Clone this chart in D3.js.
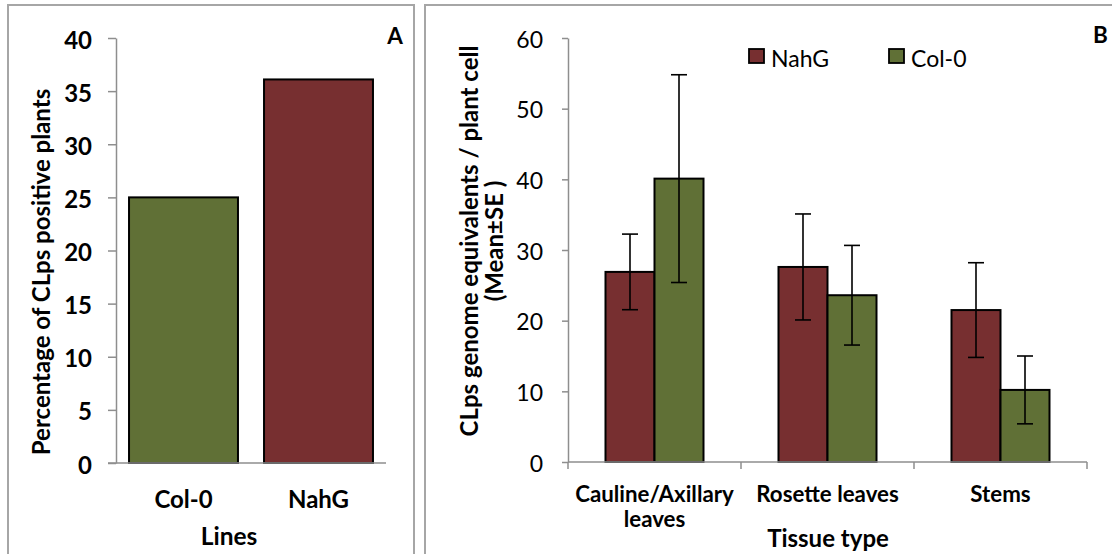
<!DOCTYPE html>
<html>
<head>
<meta charset="utf-8">
<script src="https://cdn.jsdelivr.net/npm/d3@7"></script>
<style>
  html, body { margin: 0; padding: 0; background: #fff; }
  svg { display: block; font-family: Lato, "Open Sans", sans-serif; }
</style>
</head>
<body>
<svg id="chart" width="1112" height="554"></svg>
<script>
// Panel A: share of CLps-positive plants per line
const linesA = ["Col-0", "NahG"];
const percentPositive = [25, 36.1];
const ticksA = [0, 5, 10, 15, 20, 25, 30, 35, 40];

// Panel B: CLps genome equivalents per plant cell by tissue (mean ± SE)
const tissues = ["Cauline/Axillary\nleaves", "Rosette leaves", "Stems"];
const seriesB = ["NahG", "Col-0"];
const meanNahG = [26.9, 27.6, 21.5];
const seNahG = [5.35, 7.5, 6.7];
const meanCol0 = [40.1, 23.6, 10.2];
const seCol0 = [14.7, 7.05, 4.8];
const ticksB = [0, 10, 20, 30, 40, 50, 60];

const colors = { "NahG": "#772f30", "Col-0": "#607036" };
const axisGray = "#8e8e8e";
const frameGray = "#a6a6a6";

const svg = d3.select("#chart");

// Panel frames
svg.append("rect").attr("x", 8).attr("y", 5).attr("width", 406).attr("height", 600)
  .attr("fill", "none").attr("stroke", frameGray).attr("stroke-width", 2);
svg.append("rect").attr("x", 425).attr("y", 5).attr("width", 700).attr("height", 600)
  .attr("fill", "none").attr("stroke", frameGray).attr("stroke-width", 2);

function styleAxis(g) {
  g.select(".domain").attr("stroke", axisGray).attr("stroke-width", 1.5);
  g.selectAll(".tick line").attr("stroke", axisGray).attr("stroke-width", 1.5);
  g.selectAll(".tick text").attr("fill", "#000").attr("font-family", "Lato, sans-serif");
}

// ---------- Panel A ----------
const yA = d3.scaleLinear().domain([0, 40]).range([463, 38]);
const xA = d3.scaleBand().domain(linesA).range([116, 386])
  .paddingInner(0.193).paddingOuter(0.0965);

const gA = svg.append("g");

gA.selectAll("rect.bar").data(linesA).join("rect")
  .attr("class", "bar")
  .attr("x", d => xA(d))
  .attr("width", xA.bandwidth())
  .attr("y", (d, i) => yA(percentPositive[i]))
  .attr("height", (d, i) => yA(0) - yA(percentPositive[i]))
  .attr("fill", d => colors[d])
  .attr("stroke", "#000").attr("stroke-width", 2);

const yAxisA = gA.append("g").attr("transform", "translate(116,0)")
  .call(d3.axisLeft(yA).tickValues(ticksA).tickSize(8).tickPadding(16).tickSizeOuter(0));
styleAxis(yAxisA);
yAxisA.selectAll(".tick text").attr("font-size", 24).attr("font-weight", 700).attr("dy", "0.42em");

// category baseline
gA.append("line").attr("x1", 108).attr("x2", 386).attr("y1", yA(0)).attr("y2", yA(0))
  .attr("stroke", axisGray).attr("stroke-width", 1.5);

gA.selectAll("text.cat").data(linesA).join("text")
  .attr("class", "cat")
  .attr("x", d => xA(d) + xA.bandwidth() / 2)
  .attr("y", 508)
  .attr("text-anchor", "middle")
  .attr("font-size", 24).attr("font-weight", 700)
  .text(d => d);

gA.append("text").attr("x", 229).attr("y", 545).attr("text-anchor", "middle")
  .attr("font-size", 24.5).attr("font-weight", 700).text("Lines");

gA.append("text").attr("transform", "translate(50,272) rotate(-90)")
  .attr("text-anchor", "middle").attr("font-size", 24).attr("font-weight", 700)
  .text("Percentage of CLps positive plants");

gA.append("text").attr("x", 395).attr("y", 44).attr("text-anchor", "middle")
  .attr("font-size", 22.5).attr("font-weight", 700).text("A");

// ---------- Panel B ----------
const yB = d3.scaleLinear().domain([0, 60]).range([462, 38]);
const x0 = d3.scaleBand().domain(tissues).range([568, 1087])
  .paddingInner(0.4335).paddingOuter(0.21675);
const x1 = d3.scaleBand().domain(seriesB).range([0, x0.bandwidth()]);

const rowsB = tissues.map((t, i) => ({
  tissue: t,
  values: [
    { s: "NahG", mean: meanNahG[i], se: seNahG[i] },
    { s: "Col-0", mean: meanCol0[i], se: seCol0[i] }
  ]
}));

const gB = svg.append("g");

const groups = gB.selectAll("g.grp").data(rowsB).join("g")
  .attr("class", "grp")
  .attr("transform", d => `translate(${x0(d.tissue)},0)`);

groups.selectAll("rect").data(d => d.values).join("rect")
  .attr("x", d => x1(d.s))
  .attr("width", x1.bandwidth())
  .attr("y", d => yB(d.mean))
  .attr("height", d => yB(0) - yB(d.mean))
  .attr("fill", d => colors[d.s])
  .attr("stroke", "#000").attr("stroke-width", 2);

// error bars
const capHalf = 8;
const eb = groups.selectAll("g.err").data(d => d.values).join("g").attr("class", "err")
  .attr("stroke", "#000").attr("stroke-width", 1.6);
eb.append("line")
  .attr("x1", d => x1(d.s) + x1.bandwidth() / 2).attr("x2", d => x1(d.s) + x1.bandwidth() / 2)
  .attr("y1", d => yB(d.mean + d.se)).attr("y2", d => yB(d.mean - d.se));
eb.append("line")
  .attr("x1", d => x1(d.s) + x1.bandwidth() / 2 - capHalf).attr("x2", d => x1(d.s) + x1.bandwidth() / 2 + capHalf)
  .attr("y1", d => yB(d.mean + d.se)).attr("y2", d => yB(d.mean + d.se));
eb.append("line")
  .attr("x1", d => x1(d.s) + x1.bandwidth() / 2 - capHalf).attr("x2", d => x1(d.s) + x1.bandwidth() / 2 + capHalf)
  .attr("y1", d => yB(d.mean - d.se)).attr("y2", d => yB(d.mean - d.se));

const yAxisB = gB.append("g").attr("transform", "translate(568,0)")
  .call(d3.axisLeft(yB).tickValues(ticksB).tickSize(6).tickPadding(19).tickSizeOuter(0));
styleAxis(yAxisB);
yAxisB.selectAll(".tick text").attr("font-size", 23).attr("font-weight", 400).attr("dy", "0.4em");

// x axis with ticks at category boundaries
const xAxisB = gB.append("g").attr("transform", `translate(0,${yB(0)})`);
xAxisB.append("line").attr("x1", 568).attr("x2", 1087).attr("y1", 0).attr("y2", 0)
  .attr("stroke", axisGray).attr("stroke-width", 1.5);
const bounds = tissues.map(t => x0(t) - x0.step() * x0.paddingInner() / 2).concat([1087]);
xAxisB.selectAll("line.tk").data(bounds).join("line").attr("class", "tk")
  .attr("x1", d => d).attr("x2", d => d).attr("y1", 0).attr("y2", 7)
  .attr("stroke", axisGray).attr("stroke-width", 1.5);

gB.selectAll("text.cat").data(tissues).join("text")
  .attr("class", "cat")
  .attr("x", d => x0(d) + x0.bandwidth() / 2)
  .attr("y", 502)
  .attr("text-anchor", "middle")
  .attr("font-size", 22.3).attr("font-weight", 700)
  .each(function (d) {
    const parts = d.split("\n");
    d3.select(this).selectAll("tspan").data(parts).join("tspan")
      .attr("x", x0(d) + x0.bandwidth() / 2)
      .attr("dy", (p, i) => i === 0 ? 0 : 25)
      .text(p => p);
  });

gB.append("text").attr("x", 828).attr("y", 547).attr("text-anchor", "middle")
  .attr("font-size", 24).attr("font-weight", 700).text("Tissue type");

gB.append("text").attr("transform", "translate(478,241) rotate(-90)")
  .attr("text-anchor", "middle").attr("font-size", 24).attr("font-weight", 700)
  .text("CLps genome equivalents / plant cell");
gB.append("text").attr("transform", "translate(503,241) rotate(-90)")
  .attr("text-anchor", "middle").attr("font-size", 24).attr("font-weight", 700)
  .text("(Mean±SE )");

gB.append("text").attr("x", 1093).attr("y", 43)
  .attr("font-size", 22.5).attr("font-weight", 700).text("B");

// legend
const legend = gB.append("g");
const legendX = [749, 889];
seriesB.forEach((s, i) => {
  legend.append("rect").attr("x", legendX[i]).attr("y", 49).attr("width", 15).attr("height", 14)
    .attr("fill", colors[s]).attr("stroke", "#000").attr("stroke-width", 1.8);
  legend.append("text").attr("x", legendX[i] + 22).attr("y", 67)
    .attr("font-size", 23).attr("font-weight", 400).text(s);
});
</script>
</body>
</html>
